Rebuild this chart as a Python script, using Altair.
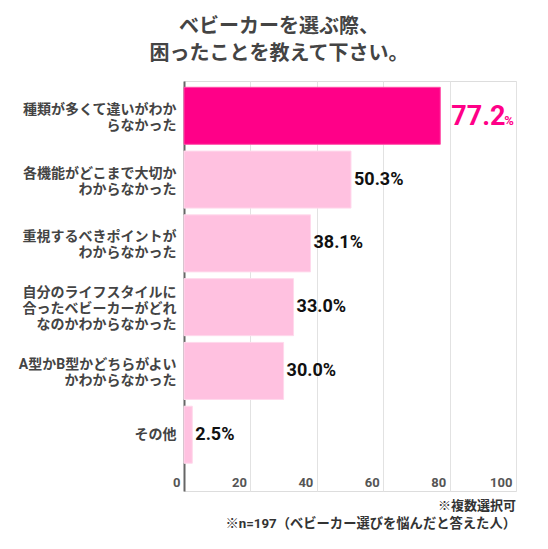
import altair as alt
import pandas as pd

# ---- data ----
categories = [
    "種類が多くて違いがわか|らなかった",
    "各機能がどこまで大切か|わからなかった",
    "重視するべきポイントが|わからなかった",
    "自分のライフスタイルに|合ったベビーカーがどれ|なのかわからなかった",
    "A型かB型かどちらがよい|かわからなかった",
    "その他",
]
values = [77.2, 50.3, 38.1, 33.0, 30.0, 2.5]
value_labels = ["77.2%", "50.3%", "38.1%", "33.0%", "30.0%", "2.5%"]
highlight = ["top", "other", "other", "other", "other", "other"]
x_ticks = [0, 20, 40, 60, 80, 100]
title_lines = ["ベビーカーを選ぶ際、", "困ったことを教えて下さい。"]
note1 = "※複数選択可"
note2 = "※n=197（ベビーカー選びを悩んだと答えた人）"

df = pd.DataFrame({
    "cat": categories,
    "value": values,
    "label": value_labels,
    "hl": highlight,
})
df["num"] = df["label"].str.replace("%", "", regex=False)

FONT = "Roboto, 'Noto Sans CJK JP', sans-serif"
PINK = "#FF0088"
LIGHT = "#FFC1E0"

x_enc = alt.X(
    "value:Q",
    scale=alt.Scale(domain=[0, 100], nice=False),
    axis=alt.Axis(
        values=x_ticks, title=None, domain=False, ticks=False,
        grid=True, gridColor="#E2E2E2", gridWidth=1,
        labelFont=FONT, labelFontSize=13, labelFontWeight="bold",
        labelColor="#555555", labelAlign="right", labelOffset=-4,
        labelBaseline="alphabetic", labelPadding=-5,
    ),
)

# vertically centre multi-line category labels on their bars
label_offset = {
    "condition": [
        {"test": "length(split(datum.label, '|')) == 3", "value": -14},
        {"test": "length(split(datum.label, '|')) == 2", "value": -6},
    ],
    "value": 0,
}

y_enc = alt.Y(
    "cat:N",
    sort=categories,
    scale=alt.Scale(paddingInner=0.106, paddingOuter=0.267, align=0.185),
    axis=alt.Axis(
        title=None, ticks=False, domain=True, domainColor="#666666",
        domainWidth=2, labelFont=FONT, labelFontSize=14,
        labelFontWeight="bold", labelColor="#444444", labelPadding=8,
        labelLimit=300, labelLineHeight=16,
        labelExpr="split(datum.label, '|')",
        labelOffset=label_offset,
    ),
)

base = alt.Chart(df)

bars = base.mark_bar(strokeWidth=1).encode(
    x=x_enc,
    y=y_enc,
    color=alt.Color("hl:N", scale=alt.Scale(domain=["top", "other"], range=[PINK, LIGHT]), legend=None),
    stroke=alt.Stroke("hl:N", scale=alt.Scale(domain=["top", "other"], range=["#FF4FA8", "#FFD9EC"]), legend=None),
)

others = base.transform_filter("datum.hl == 'other'").mark_text(
    align="left", baseline="middle", dx=3, font=FONT, fontSize=18,
    fontWeight="bold", color="#111111",
).encode(x="value:Q", y=alt.Y("cat:N", sort=categories), text="label:N")

top_num = base.transform_filter("datum.hl == 'top'").mark_text(
    align="left", baseline="alphabetic", dx=11, dy=9, font=FONT, fontSize=27,
    fontWeight="bold", color=PINK,
).encode(x="value:Q", y=alt.Y("cat:N", sort=categories), text="num:N")

top_pct = base.transform_filter("datum.hl == 'top'").mark_text(
    align="left", baseline="alphabetic", dx=64, dy=9, font=FONT, fontSize=13,
    fontWeight="bold", color=PINK,
).encode(x="value:Q", y=alt.Y("cat:N", sort=categories), text=alt.value("%"))

n1 = alt.Chart(pd.DataFrame({"t": [note1]})).mark_text(
    align="right", baseline="middle", font=FONT, fontSize=13,
    fontWeight="bold", color="#333333",
).encode(text="t:N", x=alt.value(332), y=alt.value(425))

n2 = alt.Chart(pd.DataFrame({"t": [note2]})).mark_text(
    align="right", baseline="middle", font=FONT, fontSize=13.3,
    fontWeight="bold", color="#333333",
).encode(text="t:N", x=alt.value(332), y=alt.value(443))

chart = alt.layer(bars, others, top_num, top_pct, n1, n2).properties(
    width=332,
    height=410,
    autosize=alt.AutoSizeParams(type="none"),
    padding={"left": 176, "top": 73, "right": 24, "bottom": 50},
    title=alt.TitleParams(
        text=title_lines, font=FONT, fontSize=20, fontWeight="bold",
        color="#444444", lineHeight=27, anchor="middle", frame="group",
        dx=-71, offset=17,
    ),
).configure_view(stroke=None).configure(background="white")

chart.save("out.html", embed_options={"renderer": "svg", "actions": False})
